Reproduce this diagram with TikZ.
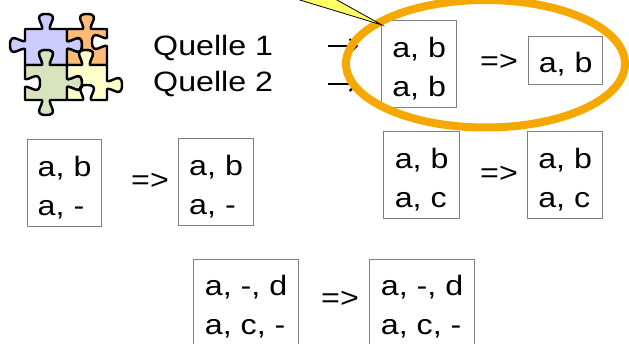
\documentclass[tikz,border=0pt]{standalone}
\usepackage{fontspec}
\setmainfont[FakeStretch=1.15]{Liberation Sans}
\usetikzlibrary{positioning, arrows.meta}

\definecolor{ringorange}{HTML}{F5A800}
\definecolor{noteyellow}{HTML}{FFFF66}
\definecolor{boxgray}{HTML}{808080}
\definecolor{pzblue}{HTML}{CCCCFF}
\definecolor{pzorange}{HTML}{FFBB77}
\definecolor{pzgreen}{HTML}{D7E4BD}
\definecolor{pzyellow}{HTML}{FFFFCC}

% puzzle knob: centre (#1,#2), direction of travel (#3,#4), bump direction (#5,#6)
\newcommand\knob[6]{%
  -- ({#1-4*#3},{#2-4*#4})
  .. controls ({#1-2*#3+4*#5},{#2-2*#4+4*#6}) and ({#1-14*#3+15*#5},{#2-14*#4+15*#6})
  .. ({#1+15*#5},{#2+15*#6})
  .. controls ({#1+14*#3+15*#5},{#2+14*#4+15*#6}) and ({#1+2*#3+4*#5},{#2+2*#4+4*#6})
  .. ({#1+4*#3},{#2+4*#4})}

\tikzset{
  % the baseline of a two-line node is its last line
  tuple/.style={draw=boxgray, line width=1.2pt, anchor=north west, inner sep=0pt,
    align=left, minimum width=#1, text height=76pt, text depth=11pt},
  tuple/.default=75pt,
  src/.style={anchor=base west, inner sep=0pt},
  merge/.style={anchor=base west, inner sep=0pt},
  feed/.style={-{Straight Barb[length=7pt, width=14pt]}, line width=2pt},
  piece/.style={draw=black, line width=2.4pt, line join=round},
}

\begin{document}
\begin{tikzpicture}[x=1pt, y=-1pt, font=\fontsize{28}{39}\selectfont]
  \useasboundingbox (0,0) rectangle (629,344);
  \clip (0,0) rectangle (629,344);

  % the four puzzle pieces
  \filldraw[piece, fill=pzblue] (25,29) \knob{46}{29}{1}{0}{0}{-1}
    -- (67,29) \knob{67}{45}{0}{1}{1}{0}
    -- (67,65) \knob{46}{65}{-1}{0}{0}{-1}
    -- (25,65) \knob{25}{45}{0}{-1}{-1}{0} -- cycle;
  \filldraw[piece, fill=pzorange] (67,29) \knob{87}{29}{1}{0}{0}{-1}
    -- (107,29) \knob{107}{42}{0}{1}{-1}{0}
    -- (107,65) \knob{86}{65}{-1}{0}{0}{-1}
    -- (67,65) \knob{67}{45}{0}{-1}{1}{0} -- cycle;
  \filldraw[piece, fill=pzgreen] (25,65) \knob{46}{65}{1}{0}{0}{-1}
    -- (67,65) \knob{67}{83}{0}{1}{1}{0}
    -- (67,100) \knob{46}{100}{-1}{0}{0}{1}
    -- (25,100) \knob{25}{83}{0}{-1}{1}{0} -- cycle;
  \filldraw[piece, fill=pzyellow] (67,65) \knob{86}{65}{1}{0}{0}{-1}
    -- (107,65) \knob{107}{85}{0}{1}{1}{0}
    -- (107,100) \knob{87}{100}{-1}{0}{0}{-1}
    -- (67,100) \knob{67}{83}{0}{-1}{1}{0} -- cycle;

  % sources
  \node[src] (src1) at (153,56) {Quelle 1};
  \node[src] (src2) at (153,92) {Quelle 2};

  % duplicates
  \node[tuple] (box1) at (381,20) {a, b\\a, b};
  \node[merge] (m1) at (480,71) {=>};
  \node[tuple=74pt, text height=36pt, text depth=12pt] (box2) at (528,36) {a, b};

  % null values
  \node[tuple=74pt] (nul1) at (27,139) {a, b\\a, -};
  \node[merge] (m2) at (131,190) {=>};
  \node[tuple] (nul2) at (178,138) {a, b\\a, -};

  % differing values
  \node[tuple=76pt] (dif1) at (383,131) {a, b\\a, c};
  \node[merge] (m3) at (480,183) {=>};
  \node[tuple] (dif2) at (527,131) {a, b\\a, c};

  % complementary values
  \node[tuple=105pt, text height=75pt] (cmp1) at (193,259) {a, -, d\\a, c, -};
  \node[merge] (m4) at (321,308) {=>};
  \node[tuple=105pt, text height=75pt] (cmp2) at (369,259) {a, -, d\\a, c, -};

  \coordinate (s1) at ([yshift=10pt]src1.base east);
  \coordinate (s2) at ([yshift=8pt]src2.base east);
  \draw[feed, shorten <=55pt, shorten >=23pt] (s1) -- (s1 -| box1.west);
  \draw[feed, shorten <=55pt, shorten >=23pt] (s2) -- (s2 -| box1.west);

  % highlight ring and callout
  \draw[ringorange, line width=8pt] (485.5,63.75) ellipse [x radius=139.5, y radius=63.75];
  \filldraw[fill=noteyellow, draw=black, line width=0.8pt]
    (267,-10) -- (382,25) -- (319,-10) -- cycle;
\end{tikzpicture}
\end{document}
